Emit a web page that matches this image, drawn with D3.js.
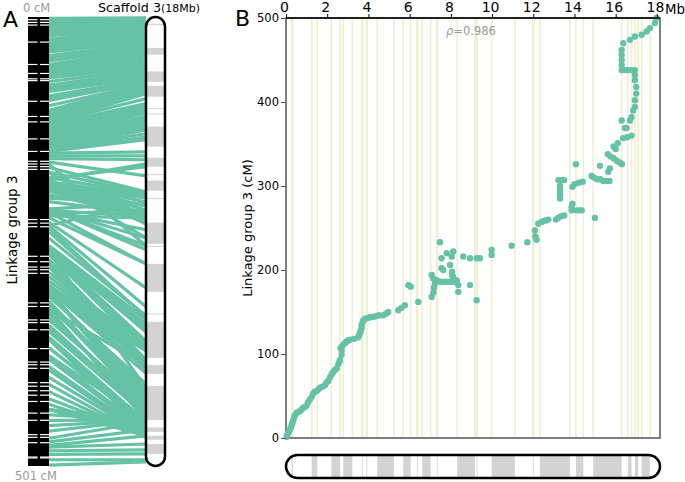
<!DOCTYPE html>
<html><head><meta charset="utf-8">
<script src="https://cdn.jsdelivr.net/npm/d3@7"></script>
<style>body{margin:0;background:#fff}svg{display:block;font-family:"DejaVu Sans",sans-serif}</style>
</head><body>
<script>
// ---- data ----
const markerMb = [0.03,0.06,0.1,0.15,0.19,0.24,0.29,0.32,0.35,0.4,0.44,0.52,0.6,0.68,0.76,0.84,0.92,1.0,1.08,1.16,1.25,1.32,1.4,1.49,1.57,1.65,1.77,1.89,1.97,2.05,2.13,2.22,2.3,2.38,2.46,2.54,2.6,2.62,2.7,2.7,2.65,2.72,2.78,2.86,2.94,3.02,3.1,3.3,3.5,3.55,3.59,3.63,3.67,3.67,3.7,3.75,3.85,3.99,4.1,4.22,4.35,4.48,4.56,4.72,4.85,4.96,5.45,5.61,5.77,5.94,6.05,6.42,7.07,7.15,7.18,7.07,7.15,7.23,7.31,7.47,7.63,7.8,7.96,8.12,8.28,7.55,7.63,7.96,8.06,8.1,8.06,8.28,8.36,8.36,8.93,9.25,7.47,7.55,7.8,8.04,8.12,8.6,8.93,9.25,9.41,9.98,9.98,10.95,11.71,12.16,12.1,12.08,12.24,12.4,12.48,12.6,12.73,13.1,13.2,13.35,13.5,13.3,13.3,13.3,13.3,13.22,13.4,13.5,13.86,13.86,13.9,14.1,14.25,14.35,13.9,14.0,14.2,14.4,14.07,14.99,14.83,14.95,15.1,15.25,15.4,15.55,15.7,15.24,15.64,15.72,15.62,15.75,15.9,16.05,16.2,16.3,15.9,16.1,16.0,16.36,16.55,16.77,16.29,16.45,16.53,16.69,16.77,16.85,16.93,16.93,17.0,17.0,16.93,16.93,16.93,16.29,16.45,16.6,16.77,16.29,16.29,16.29,16.29,16.37,16.69,16.93,17.26,17.5,17.66,17.9,17.98];
const markerCM = [1.5,3,6,8,10,13,16,19,21,25,27,30,31,32,34,36,37,39,43,46,49,53,55,56,58,60,61,63,66,68,72,76,79,81,83,88,91,93,99,104,107,109,111,113,115,116,117,118,120,123,125,128,131,134,137,140,142,143,144,144,145,146,146,146,148,150,152,155,158,182,180,162,168,173,179,194,190,184,188,186,186,186,186,186,186,202,200,206,198,192,194,188,182,174,182,164,233,214,220,216,222,216,214,214,214,224,218,229,233,236,240,247,255,257,258,259,260,260,262,264,265,285,290,295,300,307,307,307,271,275,279,271,271,271,299,302,304,305,326,262,312,310,308,308,306,306,306,324,317,321,338,335,333,330,328,326,347,351,344,357,358,360,378,369,369,378,382,390,394,402,410,418,426,432,438,438,438,438,438,444,450,456,462,470,474,478,480,484,488,494,500];
const bandStart = [0.27,1.25,2.2,2.78,3.68,3.9,4.43,5.69,6.35,6.61,7.32,8.31,9.25,9.98,11.98,12.32,14.07,14.91,16.59,16.93,17.26];
const bandEnd   = [0.33,1.52,2.62,3.22,3.72,3.94,5.24,6.05,6.39,7.02,7.36,9.17,9.29,11.11,12.02,13.78,14.43,16.29,16.77,17.09,17.66];
const whiteCM = [3,6,9,28,53,63,69,71,94,111,117,136,150,161,164,167,170,226,230,234,267,273,279,282,286,319,323,338,341,349,370,385,388,392,408,412,417,422,429,442,450,466,469,475,491,492];
const xTicks = [0,2,4,6,8,10,12,14,16,18];
const yTicks = [0,100,200,300,400,500];
const scaffoldLen = 18.15, lgLen = 501;
const rho = "0.986";

const green = "#66c2a5", bandGray = "#d3d3d3", yellow = "#efefd2";
const W = 685, H = 482;
const svg = d3.select("body").append("svg").attr("width", W).attr("height", H);

// ---- Panel A ----
const yA = d3.scaleLinear().domain([0, lgLen]).range([17, 466]);
const yS = d3.scaleLinear().domain([0, scaffoldLen]).range([17, 466]);
const pts = markerMb.map((m, i) => ({mb: m, cm: markerCM[i]}));

svg.append("g").selectAll("line").data(pts).join("line")
  .attr("x1", 49).attr("x2", 146)
  .attr("y1", d => yA(d.cm)).attr("y2", d => yS(d.mb))
  .attr("stroke", green).attr("stroke-width", 3.2);

svg.append("rect").attr("x", 28).attr("y", 17).attr("width", 21).attr("height", 449).attr("fill", "#000");
const wl = svg.append("g");
wl.selectAll("line.a").data(whiteCM).join("line").attr("class","a")
  .attr("x1", 28).attr("x2", 37.5).attr("y1", d => yA(d)).attr("y2", d => yA(d))
  .attr("stroke", "#fff").attr("stroke-width", 1.2);
wl.selectAll("line.b").data(whiteCM).join("line").attr("class","b")
  .attr("x1", 40).attr("x2", 49).attr("y1", d => yA(d)).attr("y2", d => yA(d))
  .attr("stroke", "#fff").attr("stroke-width", 1.2);

// scaffold vertical
const defs = svg.append("defs");
defs.append("clipPath").attr("id", "clipV").append("rect")
  .attr("x", 146).attr("y", 17).attr("width", 19).attr("height", 449).attr("rx", 9.5);
const bands = bandStart.map((s, i) => ({s, e: bandEnd[i]}));
svg.append("rect").attr("x", 146).attr("y", 17).attr("width", 19).attr("height", 449).attr("rx", 9.5).attr("fill", "#fff");
svg.append("g").attr("clip-path", "url(#clipV)").selectAll("rect").data(bands).join("rect")
  .attr("x", 146).attr("width", 19)
  .attr("y", d => yS(d.s)).attr("height", d => Math.max(0.8, yS(d.e) - yS(d.s)))
  .attr("fill", bandGray);
svg.append("rect").attr("x", 146).attr("y", 17).attr("width", 19).attr("height", 449).attr("rx", 9.5)
  .attr("fill", "none").attr("stroke", "#000").attr("stroke-width", 2.5);

svg.append("text").attr("x", 3).attr("y", 27).attr("font-size", 22).text("A");
svg.append("text").attr("x", 23).attr("y", 12).attr("font-size", 11.5).attr("fill", "#999").text("0 cM");
svg.append("text").attr("x", 15).attr("y", 480).attr("font-size", 11.5).attr("fill", "#999").text(lgLen + " cM");
const st = svg.append("text").attr("x", 98).attr("y", 12).attr("fill", "#000");
st.append("tspan").attr("font-size", 12.7).text("Scaffold 3");
st.append("tspan").attr("font-size", 11).text("(18Mb)");
svg.append("text").attr("transform", "translate(17,230) rotate(-90)").attr("text-anchor", "middle")
  .attr("font-size", 13.5).text("Linkage group 3");

// ---- Panel B ----
const x = d3.scaleLinear().domain([0, scaffoldLen]).range([286, 660]);
const y = d3.scaleLinear().domain([0, 500]).range([438, 18]);

const edges = [];
bands.forEach(b => { edges.push(b.s); edges.push(b.e); });
svg.append("g").selectAll("line").data(edges).join("line")
  .attr("x1", d => x(d)).attr("x2", d => x(d)).attr("y1", 18).attr("y2", 438)
  .attr("stroke", yellow).attr("stroke-width", 1.6);

svg.append("rect").attr("x", 286).attr("y", 18).attr("width", 374).attr("height", 420)
  .attr("fill", "none").attr("stroke", "#555").attr("stroke-width", 1.5);

svg.append("g").selectAll("circle").data(pts).join("circle")
  .attr("cx", d => x(d.mb)).attr("cy", d => y(d.cm)).attr("r", 3.2).attr("fill", green);

const topAxis = svg.append("g").attr("transform", "translate(0,18)")
  .call(d3.axisTop(x).tickValues(xTicks).tickSize(4).tickPadding(2).tickFormat(d3.format("d")));
topAxis.select(".domain").attr("d", `M286,0H660`).attr("stroke", "#000").attr("stroke-width", 1.6);
topAxis.selectAll("text").attr("font-size", 14).attr("dx", -2).attr("font-family", "DejaVu Sans").attr("fill", "#000");
svg.append("text").attr("x", 665).attr("y", 14).attr("font-size", 13.3).text("Mb");

const leftAxis = svg.append("g").attr("transform", "translate(286,0)")
  .call(d3.axisLeft(y).tickValues(yTicks).tickSize(5).tickPadding(2).tickFormat(d3.format("d")));
leftAxis.select(".domain").remove();
leftAxis.selectAll("line").attr("stroke", "#555");
leftAxis.selectAll("text").attr("font-size", 11.5).attr("font-family", "DejaVu Sans").attr("fill", "#000");

svg.append("text").attr("x", 235).attr("y", 26).attr("font-size", 22).text("B");
svg.append("text").attr("transform", "translate(252,228) rotate(-90)").attr("text-anchor", "middle")
  .attr("font-size", 13).text("Linkage group 3 (cM)");
const rt = svg.append("text").attr("x", 446).attr("y", 35).attr("font-size", 11.5).attr("fill", "#999");
rt.append("tspan").attr("font-style", "italic").text("ρ");
rt.append("tspan").text("=" + rho);

// bottom scaffold bar
defs.append("clipPath").attr("id", "clipH").append("rect")
  .attr("x", 286).attr("y", 455).attr("width", 374).attr("height", 23).attr("rx", 11.5);
svg.append("rect").attr("x", 286).attr("y", 455).attr("width", 374).attr("height", 23).attr("rx", 11.5).attr("fill", "#fff");
svg.append("g").attr("clip-path", "url(#clipH)").selectAll("rect").data(bands).join("rect")
  .attr("y", 455).attr("height", 23)
  .attr("x", d => x(d.s)).attr("width", d => Math.max(0.8, x(d.e) - x(d.s)))
  .attr("fill", bandGray);
svg.append("rect").attr("x", 286).attr("y", 455).attr("width", 374).attr("height", 23).attr("rx", 11.5)
  .attr("fill", "none").attr("stroke", "#000").attr("stroke-width", 2.5);
</script>
</body></html>
